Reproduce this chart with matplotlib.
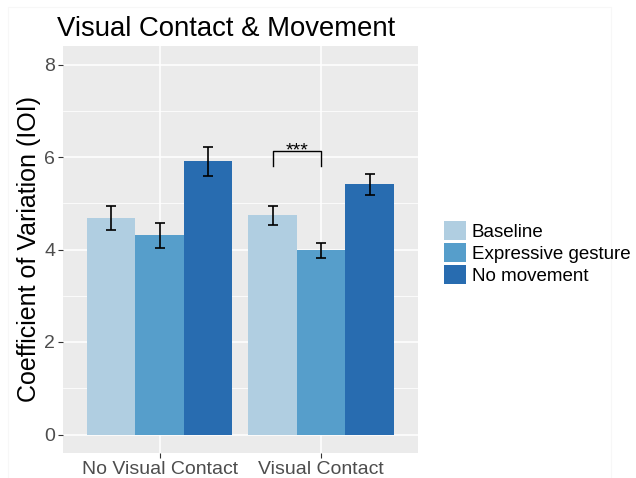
import matplotlib
matplotlib.use("Agg")
import matplotlib.pyplot as plt
from matplotlib.patches import Rectangle
import numpy as np

plt.rcParams['font.family'] = ['Liberation Sans', 'DejaVu Sans']

groups = ["No Visual Contact", "Visual Contact"]
conditions = ["Baseline", "Expressive gesture", "No movement"]
colors = ["#B0CEE1", "#569ECB", "#286CB0"]

means = {
    "Baseline": [4.69, 4.74],
    "Expressive gesture": [4.31, 3.99],
    "No movement": [5.91, 5.41],
}
err_low = {
    "Baseline": [4.42, 4.52],
    "Expressive gesture": [4.03, 3.82],
    "No movement": [5.60, 5.17],
}
err_high = {
    "Baseline": [4.94, 4.94],
    "Expressive gesture": [4.58, 4.15],
    "No movement": [6.21, 5.63],
}
y_ticks = [0, 2, 4, 6, 8]

fig = plt.figure(figsize=(6.36, 4.78), dpi=100)

# thin light frame around the plot area
fig.patches.append(Rectangle((8 / 636, -0.01), (611 - 8) / 636, 1 - 7 / 478 + 0.01,
                             transform=fig.transFigure, fill=False,
                             edgecolor="#F7F7F7", lw=0.8, zorder=0))

ax = fig.add_axes([62.7 / 636, 1 - 453 / 478, (418 - 62.7) / 636, (453 - 46) / 478])
ax.set_facecolor("#EBEBEB")

x = np.arange(1, len(groups) + 1)
width = 0.3
for i, cond in enumerate(conditions):
    pos = x + (i - 1) * width
    m = np.array(means[cond])
    lo = m - np.array(err_low[cond])
    hi = np.array(err_high[cond]) - m
    ax.bar(pos, m, width=width, color=colors[i], label=cond, zorder=2)
    ax.errorbar(pos, m, yerr=[lo, hi], fmt="none", ecolor="black",
                elinewidth=1.2, capsize=3.6, capthick=1.2, zorder=3)

# significance bracket between Baseline and Expressive gesture (Visual Contact)
bx0 = x[1] - width
bx1 = x[1]
ax.plot([bx0, bx0, bx1, bx1], [5.80, 6.14, 6.14, 5.80], color="black", lw=1.0, zorder=3)
ax.text((bx0 + bx1) / 2, 6.04, "***", ha="center", va="baseline", fontsize=14, zorder=3)

ax.set_xlim(0.4, 2.6)
ax.set_ylim(-0.4, 8.4)
ax.set_xticks(x)
ax.set_xticklabels(groups)
ax.set_yticks(y_ticks)
ax.set_yticks([1, 3, 5, 7], minor=True)
ax.grid(which="major", color="white", lw=1.1, zorder=0)
ax.grid(which="minor", axis="y", color="white", lw=0.55, zorder=0)
ax.set_axisbelow(True)
for s in ax.spines.values():
    s.set_visible(False)
ax.tick_params(axis="both", which="major", length=3.5, width=0.8, color="#333333",
               labelsize=14, labelcolor="#4D4D4D", pad=2)
ax.tick_params(axis="both", which="minor", length=0)

ax.set_ylabel("Coefficient of Variation (IOI)", fontsize=18, color="black", labelpad=2)
fig.text(57 / 636, 1 - 36 / 478, "Visual Contact & Movement", fontsize=19.8,
         ha="left", va="baseline")

handles, labels = ax.get_legend_handles_labels()
leg = fig.legend(handles, labels, loc="center left", bbox_to_anchor=(436 / 636, 1 - 253 / 478),
                 frameon=False, fontsize=13.5, handlelength=1.2, handleheight=1.2,
                 handletextpad=0.3, labelspacing=0.1, borderaxespad=0)

fig.savefig("out.png", dpi=100)
